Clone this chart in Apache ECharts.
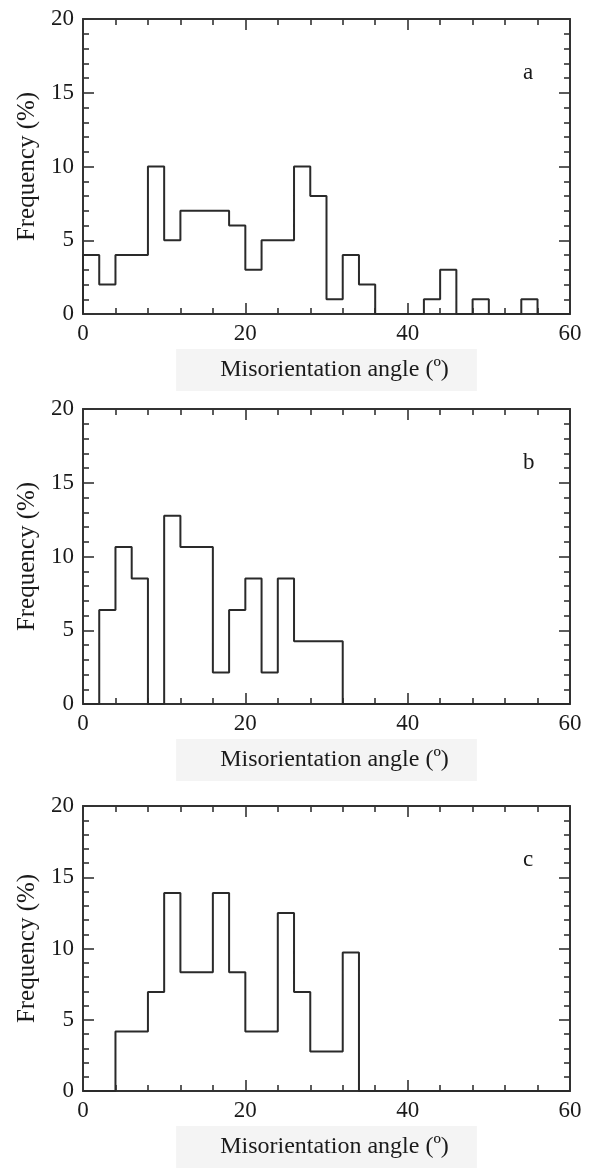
<!DOCTYPE html>
<html>
<head>
<meta charset="utf-8">
<script src="https://cdn.jsdelivr.net/npm/echarts@6/dist/echarts.min.js"></script>
<style>
html,body{margin:0;padding:0;background:#fff;}
#chart{width:591px;height:1169px;}
</style>
</head>
<body>
<div id="chart"></div>
<script>
// Bin width 2 degrees, bins start at 0
const binWidth = 2;
const xTicks = [0, 20, 40, 60];
const yTicks = [0, 5, 10, 15, 20];
const panelLabels = ['a', 'b', 'c'];
const xName = 'Misorientation angle (\u00ba)';
const yName = 'Frequency (%)';

// Frequencies (%) per 2° bin, 0-60°
const freqA = [4, 2, 4, 4, 10, 5, 7, 7, 7, 6, 3, 5, 5, 10, 8, 1, 4, 2, 0, 0, 0, 1, 3, 0, 1, 0, 0, 1, 0, 0];
const freqB = [0, 6.38, 10.64, 8.51, 0, 12.77, 10.64, 10.64, 2.13, 6.38, 8.51, 2.13, 8.51, 4.26, 4.26, 4.26, 0, 0, 0, 0, 0, 0, 0, 0, 0, 0, 0, 0, 0, 0];
const freqC = [0, 0, 4.17, 4.17, 6.94, 13.89, 8.33, 8.33, 13.89, 8.33, 4.17, 4.17, 12.5, 6.94, 2.78, 2.78, 9.72, 0, 0, 0, 0, 0, 0, 0, 0, 0, 0, 0, 0, 0];

const panels = [freqA, freqB, freqC];
const grids = [
  {left: 83, top: 19, width: 487, height: 295},
  {left: 83, top: 409, width: 487, height: 295},
  {left: 83, top: 806, width: 487, height: 296}
];

function stepData(freq) {
  const d = [[0, 0]];
  freq.forEach((v, i) => d.push([i * binWidth, v]));
  d.push([freq.length * binWidth, 0]);
  return d;
}

const FONT = '"Liberation Serif", "DejaVu Serif", serif';
const ink = '#1a1a1a';
const axisCol = '#333';

const xAxes = [], yAxes = [], series = [], titles = [];
panels.forEach((freq, k) => {
  const common = {
    gridIndex: k,
    type: 'value',
    axisLine: {show: true, onZero: false, lineStyle: {color: axisCol, width: 2}},
    splitLine: {show: false},
    axisTick: {show: true, inside: true, length: 11, lineStyle: {color: axisCol, width: 1.6}},
    minorTick: {show: true, splitNumber: 5, length: 6, lineStyle: {color: axisCol, width: 1.6}}
  };
  xAxes.push(Object.assign({}, common, {
    position: 'bottom',
    min: xTicks[0], max: xTicks[xTicks.length - 1], interval: xTicks[1] - xTicks[0],
    axisLabel: {show: true, margin: 8, fontFamily: FONT, fontSize: 23, color: ink},
    name: xName, nameLocation: 'middle', nameGap: 35,
    nameTextStyle: {fontFamily: FONT, fontSize: 24, color: ink, backgroundColor: '#f4f4f4', padding: [9, 28, 9, 44]}
  }));
  xAxes.push(Object.assign({}, common, {
    position: 'top',
    min: xTicks[0], max: xTicks[xTicks.length - 1], interval: xTicks[1] - xTicks[0],
    axisLabel: {show: false}
  }));
  yAxes.push(Object.assign({}, common, {
    position: 'left',
    min: yTicks[0], max: yTicks[yTicks.length - 1], interval: yTicks[1] - yTicks[0],
    axisLabel: {show: true, margin: 9, fontFamily: FONT, fontSize: 23, color: ink},
    name: yName, nameLocation: 'middle', nameGap: 43,
    nameTextStyle: {fontFamily: FONT, fontSize: 25, color: ink}
  }));
  yAxes.push(Object.assign({}, common, {
    position: 'right',
    min: yTicks[0], max: yTicks[yTicks.length - 1], interval: yTicks[1] - yTicks[0],
    axisLabel: {show: false}
  }));
  series.push({
    type: 'line',
    xAxisIndex: 2 * k, yAxisIndex: 2 * k,
    step: 'end',
    data: stepData(freq),
    showSymbol: false, symbol: 'none',
    lineStyle: {color: '#2a2a2a', width: 2},
    clip: false,
    silent: true,
    animation: false
  });
  titles.push({
    text: panelLabels[k],
    left: 518, top: grids[k].top + 37,
    textStyle: {fontFamily: FONT, fontSize: 23, fontWeight: 'normal', color: ink}
  });
});

const chart = echarts.init(document.getElementById('chart'), null, {renderer: 'canvas'});
chart.setOption({
  backgroundColor: '#fff',
  animation: false,
  title: titles,
  grid: grids,
  xAxis: xAxes,
  yAxis: yAxes,
  series: series
});
</script>
</body>
</html>
